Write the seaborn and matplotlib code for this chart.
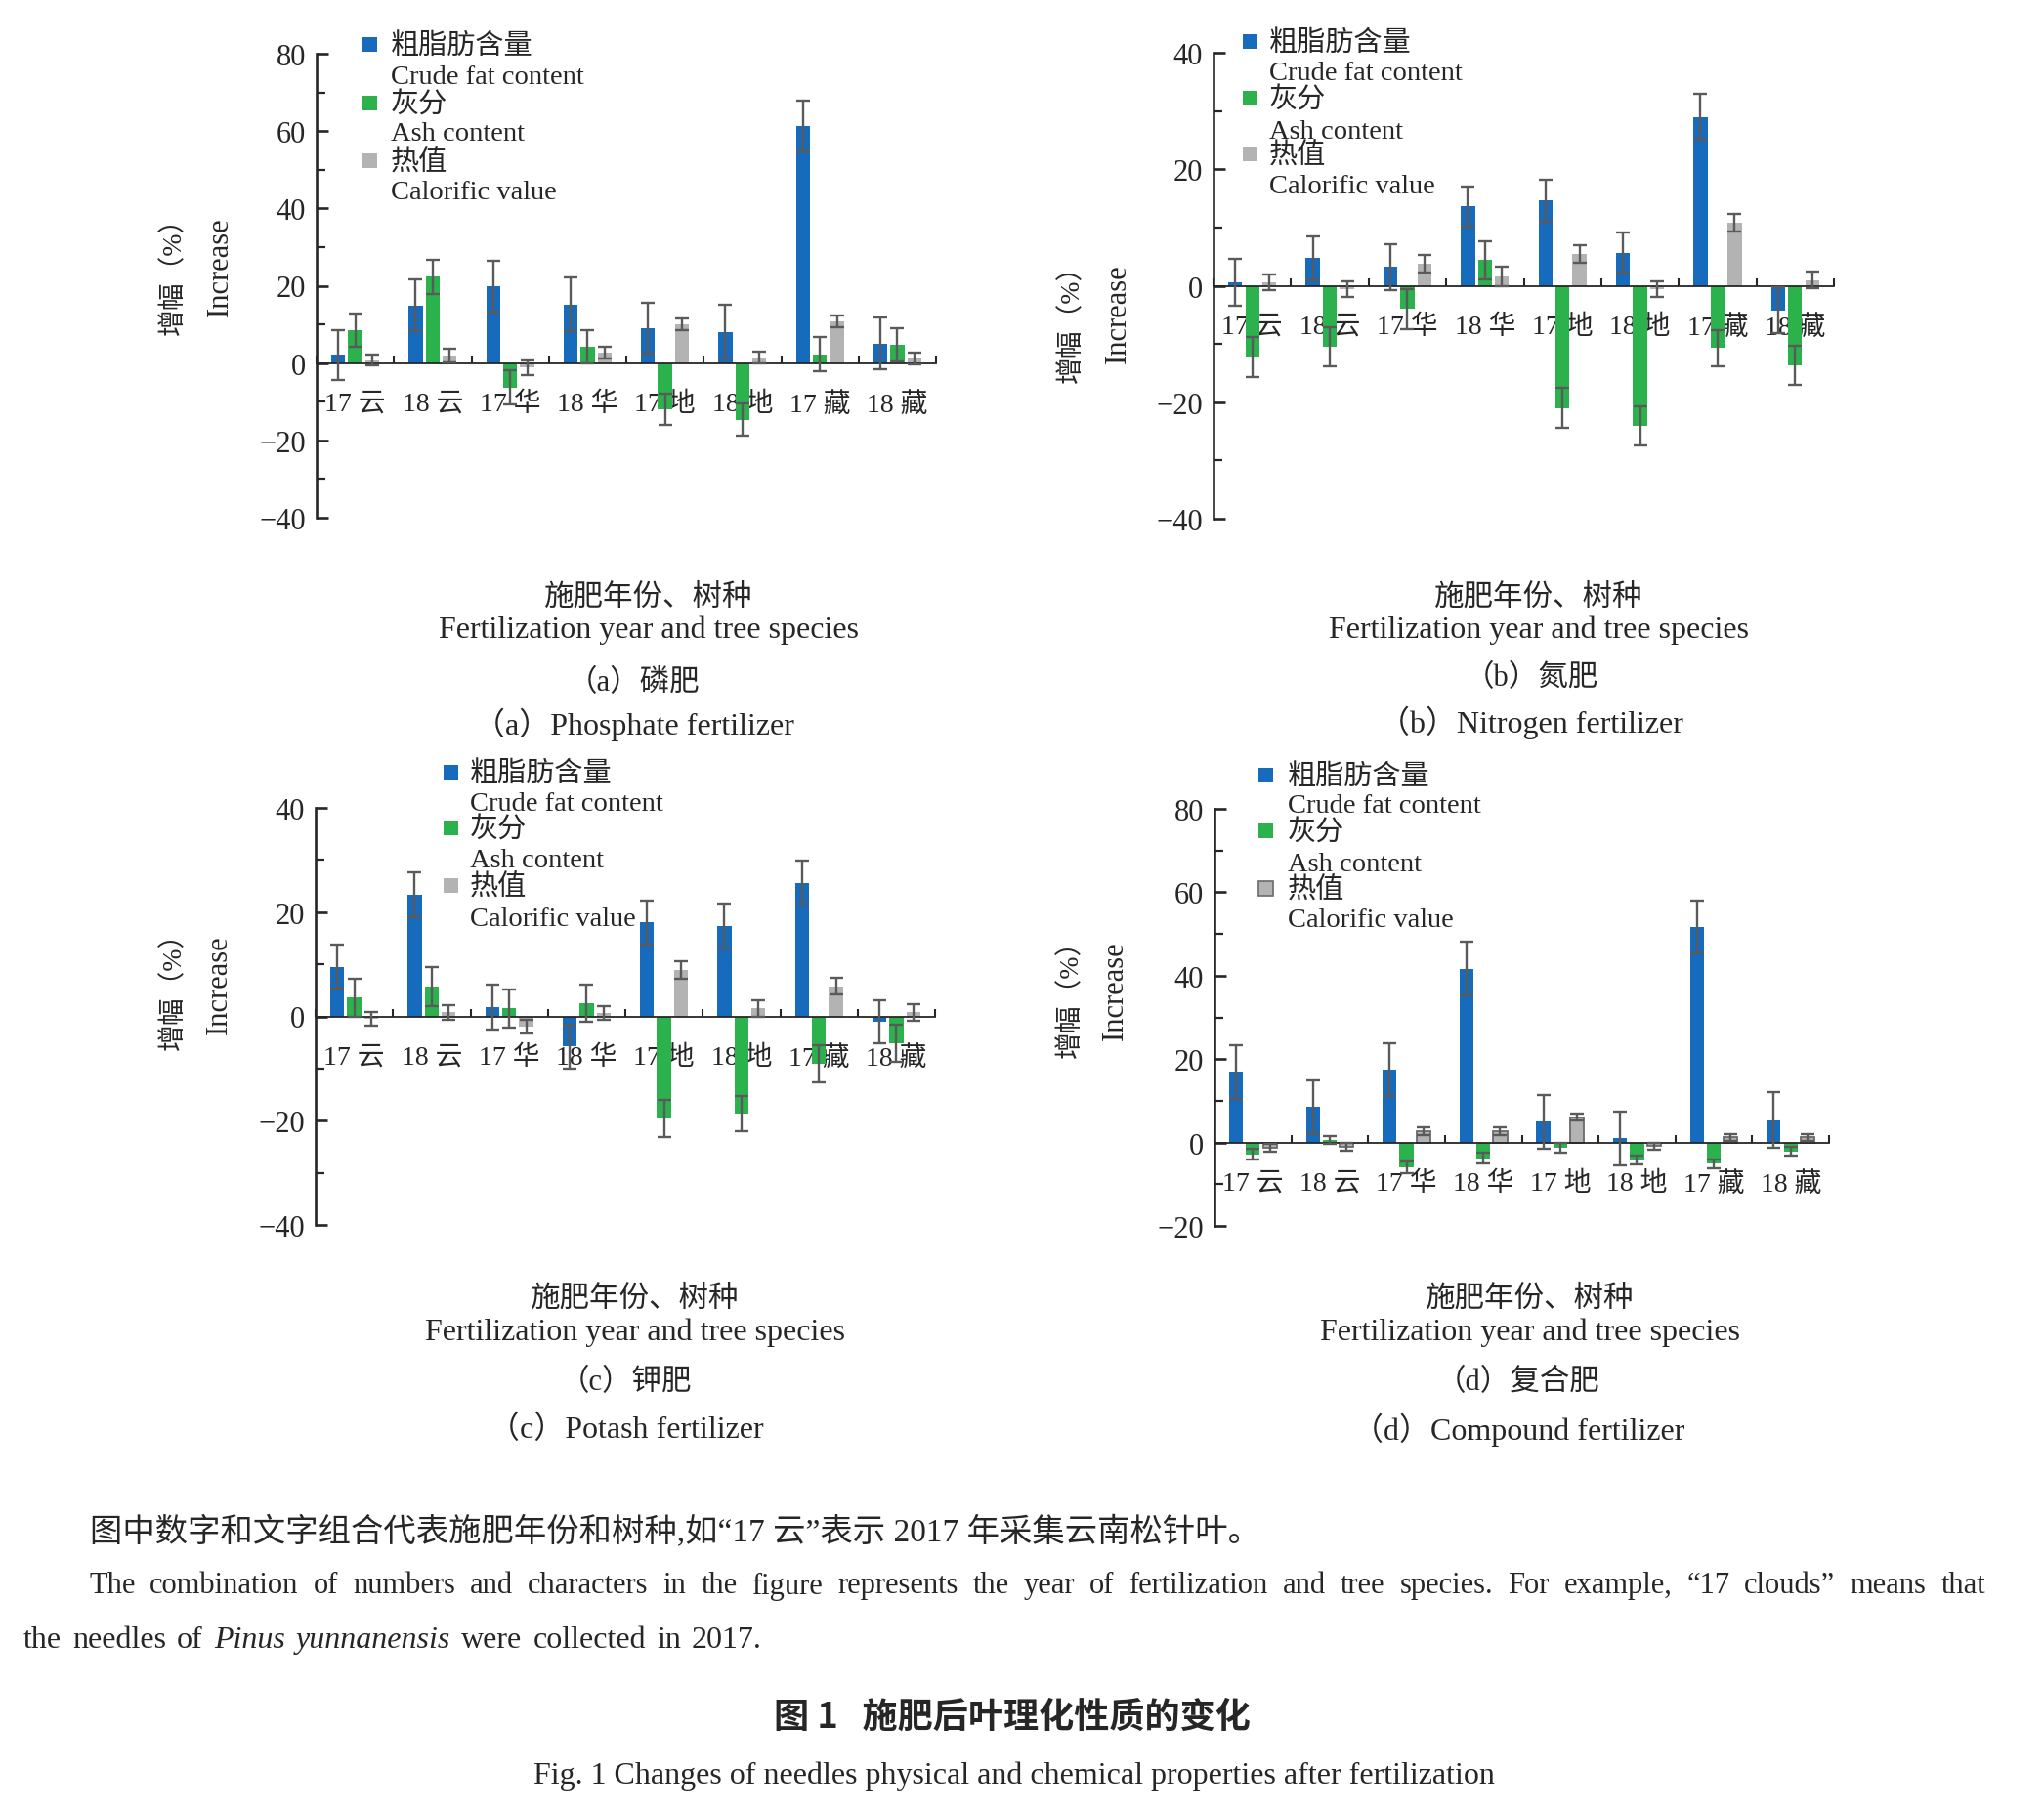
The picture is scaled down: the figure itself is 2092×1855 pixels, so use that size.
import numpy as np
import pandas as pd
import seaborn as sns
import matplotlib.pyplot as plt
from matplotlib.patches import Rectangle
from matplotlib.container import BarContainer
from matplotlib.ticker import MultipleLocator, NullFormatter

W, H = 2092, 1856

cats = ['17 云', '18 云', '17 华', '18 华', '17 地', '18 地', '17 藏', '18 藏']
series = ['fat', 'ash', 'cal']
colors = ['#176bbd', '#2bb24c', '#b3b3b3']
legend_cn = ['粗脂肪含量', '灰分', '热值']
legend_en = ['Crude fat content', 'Ash content', 'Calorific value']

# (a) phosphate
fat_p = [2.1, 14.9, 19.8, 15.2, 9.0, 8.1, 61.3, 5.0]
fat_p_err = [6.5, 6.7, 6.7, 7.0, 6.6, 6.9, 6.6, 6.7]
ash_p = [8.6, 22.3, -6.3, 4.2, -12.0, -14.7, 2.3, 4.6]
ash_p_err = [4.3, 4.5, 4.5, 4.3, 4.0, 4.2, 4.5, 4.3]
cal_p = [0.8, 2.0, -1.2, 2.7, 10.1, 1.5, 10.8, 1.2]
cal_p_err = [1.5, 1.8, 1.8, 1.6, 1.5, 1.5, 1.5, 1.5]

# (b) nitrogen
fat_n = [0.6, 4.7, 3.2, 13.6, 14.6, 5.7, 29.0, -4.2]
fat_n_err = [4.0, 3.8, 3.9, 3.5, 3.6, 3.5, 3.9, 3.9]
ash_n = [-12.2, -10.5, -4.0, 4.4, -21.0, -24.1, -10.7, -13.7]
ash_n_err = [3.4, 3.3, 3.4, 3.3, 3.4, 3.4, 3.1, 3.4]
cal_n = [0.6, -0.6, 3.7, 1.6, 5.5, -0.6, 10.8, 1.0]
cal_n_err = [1.3, 1.4, 1.5, 1.6, 1.5, 1.4, 1.5, 1.4]

# (c) potash
fat_k = [9.5, 23.4, 1.7, -5.8, 18.0, 17.3, 25.6, -1.0]
fat_k_err = [4.2, 4.3, 4.3, 4.2, 4.2, 4.3, 4.3, 4.1]
ash_k = [3.6, 5.7, 1.5, 2.5, -19.6, -18.6, -9.1, -5.2]
ash_k_err = [3.7, 3.7, 3.6, 3.6, 3.6, 3.4, 3.6, 3.6]
cal_k = [-0.5, 0.8, -2.0, 0.7, 8.9, 1.5, 5.8, 0.8]
cal_k_err = [1.3, 1.4, 1.3, 1.3, 1.6, 1.5, 1.6, 1.6]

# (d) compound
fat_c = [16.9, 8.5, 17.5, 41.7, 5.0, 1.0, 51.7, 5.4]
fat_c_err = [6.5, 6.5, 6.4, 6.5, 6.4, 6.5, 6.4, 6.6]
ash_c = [-2.8, 0.6, -5.9, -3.8, -1.3, -4.2, -5.1, -2.1]
ash_c_err = [1.2, 1.0, 1.4, 1.3, 1.1, 1.1, 1.0, 1.1]
cal_c = [-1.2, -1.0, 2.7, 2.7, 6.1, -0.9, 1.2, 1.2]
cal_c_err = [0.9, 0.9, 1.0, 1.0, 0.8, 0.9, 0.8, 0.8]

sns.set_style('ticks')
plt.rcParams['font.family'] = ['Liberation Serif', 'Noto Sans CJK SC']
plt.rcParams['axes.unicode_minus'] = True

fig = plt.figure(figsize=(W / 100, H / 100), dpi=100)


def ftext(x, y, s, **kw):
    return fig.text(x / W, 1 - y / H, s, **kw)


def panel(box, vals, errs, ylim, gray_edge=False):
    x0, x1, ytop, ybot = box
    ax = fig.add_axes([x0 / W, 1 - ybot / H, (x1 - x0) / W, (ybot - ytop) / H])
    df = pd.DataFrame({
        'group': cats * 3,
        'series': [s for s in series for _ in cats],
        'value': vals[0] + vals[1] + vals[2],
    })
    sns.barplot(data=df, x='group', y='value', hue='series', order=cats,
                hue_order=series, palette=colors, width=0.66, gap=0.18,
                errorbar=None, legend=False, saturation=1, linewidth=0,
                edgecolor='none', ax=ax)
    bars = [c for c in ax.containers if isinstance(c, BarContainer)]
    if gray_edge:
        for b in bars[2]:
            b.set_edgecolor('#6a6a6a')
            b.set_linewidth(1.3)
    for cont, v, e in zip(bars, vals, errs):
        xs = [b.get_x() + b.get_width() / 2 for b in cont]
        ax.errorbar(xs, v, yerr=e, fmt='none', ecolor='#5a5a5a',
                    elinewidth=1.7, capsize=5, capthick=1.7, zorder=3)
    for s in ['top', 'right']:
        ax.spines[s].set_visible(False)
    ax.spines['left'].set_linewidth(1.9)
    ax.spines['bottom'].set_position(('data', 0))
    ax.spines['bottom'].set_linewidth(1.3)
    ax.set_ylim(*ylim)
    ax.set_xlim(-0.5, 7.5)
    ax.yaxis.set_major_locator(MultipleLocator(20))
    ax.yaxis.set_minor_locator(MultipleLocator(10))
    ax.tick_params(axis='y', which='major', direction='in', length=8.5,
                   width=1.9, labelsize=22, pad=8)
    ax.tick_params(axis='y', which='minor', direction='in', length=6.5, width=1.6)
    ax.set_xticks(np.arange(-0.5, 8, 1))
    ax.xaxis.set_major_formatter(NullFormatter())
    ax.set_xticks(range(len(cats)), minor=True)
    ax.set_xticklabels(cats, minor=True)
    ax.tick_params(axis='x', which='major', direction='in', length=6, width=1.5)
    ax.tick_params(axis='x', which='minor', length=0, labelsize=20, pad=21)
    ax.set_xlabel('')
    ax.set_ylabel('')
    ax.patch.set_alpha(0)
    return ax


def legend(xsq, xtxt, ys, gray_edge=False):
    for i in range(3):
        y_cn, y_en = ys[2 * i], ys[2 * i + 1]
        ec = '#6a6a6a' if (gray_edge and i == 2) else 'none'
        fig.add_artist(Rectangle(((xsq - 7.5) / W, 1 - (y_cn + 6) / H), 15 / W, 15 / H,
                                 transform=fig.transFigure, facecolor=colors[i],
                                 edgecolor=ec, linewidth=1.2))
        ftext(xtxt, y_cn, legend_cn[i], va='center', ha='left', fontsize=21)
        ftext(xtxt, y_en, legend_en[i], va='center', ha='left', fontsize=20.5)


def ylabels(cn_xy, en_xy):
    ftext(cn_xy[0], cn_xy[1], '增幅（%）', rotation=90, ha='center', va='center', fontsize=20)
    ftext(en_xy[0], en_xy[1], 'Increase', rotation=90, ha='center', va='center', fontsize=22)


def xtitles(cx, cx_sub, ys, cn_sub, en_sub):
    ftext(cx, ys[0], '施肥年份、树种', ha='center', va='center', fontsize=22)
    ftext(cx, ys[1], 'Fertilization year and tree species', ha='center', va='center',
          fontsize=23)
    ftext(cx_sub, ys[2], cn_sub, ha='center', va='center', fontsize=22)
    ftext(cx_sub, ys[3], en_sub, ha='center', va='center', fontsize=23)


panel((324, 958, 56, 531), [fat_p, ash_p, cal_p], [fat_p_err, ash_p_err, cal_p_err], (-40, 80))
panel((1242, 1877, 55, 532), [fat_n, ash_n, cal_n], [fat_n_err, ash_n_err, cal_n_err], (-40, 40))
panel((323, 957, 828, 1255), [fat_k, ash_k, cal_k], [fat_k_err, ash_k_err, cal_k_err], (-40, 40))
panel((1243, 1872, 829, 1256), [fat_c, ash_c, cal_c], [fat_c_err, ash_c_err, cal_c_err], (-20, 80),
      gray_edge=True)

legend(378, 400, [48, 80, 108, 138, 167, 197])
legend(1279, 1299, [45, 76, 103, 135, 160, 192])
legend(461, 481, [793, 824, 850, 882, 909, 941])
legend(1295, 1318, [796, 826, 853, 885, 912, 943], gray_edge=True)

ylabels((178, 276), (225, 273))
ylabels((1097, 325), (1144, 321))
ylabels((178, 1008), (224, 1008))
ylabels((1096, 1016), (1141, 1014))

xtitles(664, 649, [612, 645, 700, 742], '（a）磷肥', '（a）Phosphate fertilizer')
xtitles(1575, 1567, [612, 645, 695, 740], '（b）氮肥', '（b）Nitrogen fertilizer')
xtitles(650, 641, [1330, 1364, 1416, 1464], '（c）钾肥', '（c）Potash fertilizer')
xtitles(1566, 1554, [1330, 1364, 1416, 1464], '（d）复合肥', '（d）Compound fertilizer')


def put_words(words, x0, y, size, x1=None, space=7.5):
    arts = [ftext(0, y, w, fontsize=size, style=st, va='center', ha='left') for w, st in words]
    r = fig.canvas.get_renderer()
    widths = [t.get_window_extent(r).width for t in arts]
    if x1 is not None:
        space = (x1 - x0 - sum(widths)) / (len(arts) - 1)
    x = x0
    for t, wd in zip(arts, widths):
        t.set_x(x / W)
        x += wd + space


ftext(92, 1568, '图中数字和文字组合代表施肥年份和树种,如“17 云”表示 2017 年采集云南松针叶。',
      va='center', ha='left', fontsize=24)
line1 = ('The combination of numbers and characters in the figure represents the year of '
         'fertilization and tree species. For example, “17 clouds” means that')
put_words([(w, 'normal') for w in line1.split()], 91, 1624, 22, x1=2032)
line2 = [('the', 'normal'), ('needles', 'normal'), ('of', 'normal'), ('Pinus', 'italic'),
         ('yunnanensis', 'italic'), ('were', 'normal'), ('collected', 'normal'),
         ('in', 'normal'), ('2017.', 'normal')]
put_words(line2, 24, 1680, 23, space=11)
ftext(1036, 1758, '图 1   施肥后叶理化性质的变化', ha='center', va='center', fontsize=26,
      fontweight='bold', family=['Noto Sans CJK SC', 'DejaVu Sans'])
ftext(1038, 1818, 'Fig. 1 Changes of needles physical and chemical properties after fertilization',
      ha='center', va='center', fontsize=23)

fig.savefig('out.png', dpi=100)
